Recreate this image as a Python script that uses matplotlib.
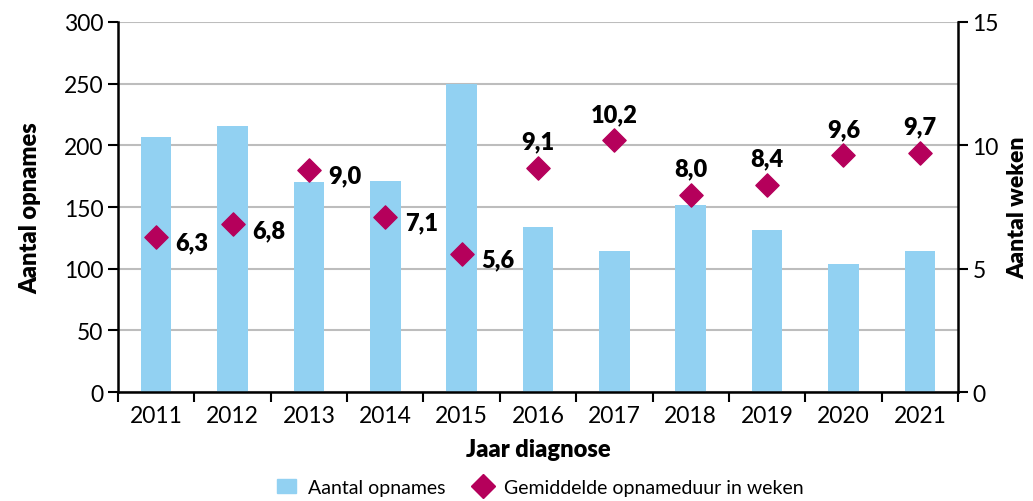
import matplotlib.pyplot as plt
from matplotlib.patches import Patch
from matplotlib.lines import Line2D

years = ["2011", "2012", "2013", "2014", "2015", "2016", "2017", "2018", "2019", "2020", "2021"]
opnames = [207, 216, 170, 171, 250, 134, 114, 152, 131, 104, 114]
weken = [6.3, 6.8, 9.0, 7.1, 5.6, 9.1, 10.2, 8.0, 8.4, 9.6, 9.7]
label_pos = ["right", "right", "right", "right", "right", "top", "top", "top", "top", "top", "top"]

bar_color = "#92D1F2"
dia_color = "#B5005B"

plt.rcParams['font.family'] = ['Lato', 'DejaVu Sans']

fig = plt.figure(figsize=(10.33, 5.02), dpi=100)
ax = fig.add_axes([0.1142, 0.2171, 0.8132, 0.7371])
ax2 = ax.twinx()

x = list(range(len(years)))
ax.bar(x, opnames, width=0.4, color=bar_color, zorder=2)
ax.set_ylim(0, 300)
ax.set_yticks(range(0, 301, 50))
ax.set_xlim(-0.5, len(years) - 0.5)
ax.set_xticks(x)
ax.set_xticklabels(years)
ax.set_xticks([i + 0.5 for i in range(-1, len(years))], minor=True)
ax.tick_params(axis='x', which='major', length=0, pad=9, labelsize=16.5)
ax.tick_params(axis='x', which='minor', length=7, width=1.5, direction='out')
ax.tick_params(axis='y', length=7, width=1.5, labelsize=16.5)
ax.grid(axis='y', color='#BDBDBD', linewidth=1.5, zorder=0)
ax.set_axisbelow(True)
for s in ['top', 'right']:
    ax.spines[s].set_visible(False)
ax.spines['left'].set_linewidth(1.8)
ax.spines['bottom'].set_linewidth(1.8)

ax2.scatter(x, weken, marker='D', s=140, color=dia_color, zorder=3)
ax2.set_ylim(0, 15)
ax2.set_yticks([0, 5, 10, 15])
ax2.tick_params(axis='y', length=7, width=1.5, labelsize=16.5)
for s in ['top', 'left', 'bottom']:
    ax2.spines[s].set_visible(False)
ax2.spines['right'].set_linewidth(1.8)

for xi, v, p in zip(x, weken, label_pos):
    txt = f"{v:.1f}".replace(".", ",")
    if p == "right":
        ax2.annotate(txt, (xi, v), xytext=(14, -4), textcoords='offset points',
                     ha='left', va='center', fontsize=17, fontweight='heavy')
    else:
        ax2.annotate(txt, (xi, v), xytext=(0, 11), textcoords='offset points',
                     ha='center', va='bottom', fontsize=17, fontweight='heavy')

ax.set_xlabel("Jaar diagnose", fontsize=17, fontweight='heavy', labelpad=9)
ax.set_ylabel("Aantal opnames", fontsize=17, fontweight='heavy', labelpad=16)
ax2.set_ylabel("Aantal weken", fontsize=16.5, fontweight='heavy', labelpad=6)

handles = [Patch(color=bar_color, label="Aantal opnames"),
           Line2D([], [], marker='D', linestyle='none', color=dia_color, markersize=12,
                  label="Gemiddelde opnameduur in weken")]
fig.legend(handles=handles, loc='lower center', bbox_to_anchor=(0.523, -0.025), ncol=2,
           frameon=False, fontsize=14, handlelength=1.0, handletextpad=0.6, columnspacing=1.4)

fig.savefig("out.png", dpi=100)
